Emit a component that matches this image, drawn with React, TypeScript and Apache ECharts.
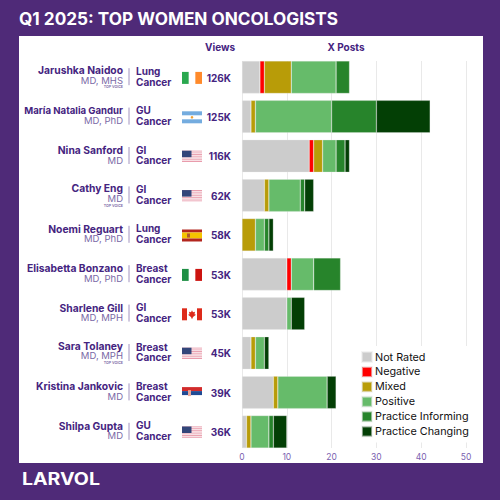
import React, { useEffect, useRef } from "react";
import * as echarts from "echarts";

const names = ["Jarushka Naidoo", "María Natalia Gandur", "Nina Sanford", "Cathy Eng", "Noemi Reguart", "Elisabetta Bonzano", "Sharlene Gill", "Sara Tolaney", "Kristina Jankovic", "Shilpa Gupta"];
const degrees = ["MD, MHS", "MD, PhD", "MD", "MD", "MD, PhD", "MD, PhD", "MD, MPH", "MD, MPH", "MD", "MD"];
const topVoice = [true, false, false, true, false, false, false, true, false, false];
const cancers = ["Lung", "GU", "GI", "GI", "Lung", "Breast", "GI", "Breast", "Breast", "GU"];
const flags = ["ie", "ar", "us", "us", "es", "it", "ca", "us", "rs", "us"];
const views = ["126K", "125K", "116K", "62K", "58K", "53K", "53K", "45K", "39K", "36K"];

const notRated = [4, 2, 15, 5, 0, 10, 10, 2, 7, 1];
const negative = [1, 0, 1, 0, 0, 1, 0, 0, 0, 0];
const mixed = [6, 1, 2, 1, 3, 0, 0, 1, 1, 1];
const positive = [10, 17, 3, 7, 2, 5, 1, 2, 11, 4];
const practiceInforming = [3, 10, 2, 1, 1, 6, 0, 0, 0, 1];
const practiceChanging = [0, 12, 1, 2, 1, 0, 3, 1, 2, 3];

const seriesDefs: [string, number[], string][] = [
  ["Not Rated", notRated, "#cccccc"],
  ["Negative", negative, "#ff0000"],
  ["Mixed", mixed, "#b89c08"],
  ["Positive", positive, "#66bb6a"],
  ["Practice Informing", practiceInforming, "#27842b"],
  ["Practice Changing", practiceChanging, "#033f05"],
];

const PURPLE = "#4f2a78";
const INK = "#45247f";
const SOFT = "#7a68a6";
const FONT = "Inter";
const GRID_TOP = 57.5;
const GRID_H = 394;
const ROW = GRID_H / names.length;

function rect(x: number, y: number, w: number, h: number, fill: string) {
  return { type: "rect", silent: true, shape: { x, y, width: w, height: h }, style: { fill } };
}

function text(x: number, y: number, t: string, o: any, extra: any = {}) {
  return {
    type: "text",
    silent: true,
    x,
    y,
    ...extra,
    style: { text: t, fontFamily: FONT, textVerticalAlign: "middle", ...o },
  };
}

function flag(code: string, cy: number) {
  const x = 182;
  const w = 20;
  const y = cy - 5.3;
  const h = 12;
  const out: any[] = [];
  if (code === "ie" || code === "it") {
    const [a, b] = code === "ie" ? ["#2aa84f", "#ff8a2b"] : ["#1f8f45", "#cc1410"];
    out.push(rect(x, y, w / 3, h, a), rect(x + (2 * w) / 3, y, w / 3, h, b));
  } else if (code === "ca") {
    out.push(rect(x, y, 5, h, "#dd2a1a"), rect(x + 15, y, 5, h, "#dd2a1a"));
    out.push({
      type: "polygon",
      silent: true,
      shape: { points: [[x + 10, y + 2], [x + 11, y + 4], [x + 13, y + 3.5], [x + 12.5, y + 6], [x + 14, y + 6.5], [x + 11, y + 8.8], [x + 10.3, y + 10.5], [x + 9.7, y + 10.5], [x + 9, y + 8.8], [x + 6, y + 6.5], [x + 7.5, y + 6], [x + 7, y + 3.5], [x + 9, y + 4]] },
      style: { fill: "#dd2a1a" },
    });
  } else if (code === "ar") {
    out.push(rect(x, y, w, 4, "#74acdf"), rect(x, y + 8, w, 4, "#74acdf"));
    out.push({ type: "circle", silent: true, shape: { cx: x + 10, cy: y + 6, r: 1.3 }, style: { fill: "#f0a030" } });
  } else if (code === "es") {
    out.push(rect(x, y, w, 3, "#b3261e"), rect(x, y + 3, w, 6, "#f5c400"), rect(x, y + 9, w, 3, "#b3261e"), rect(x + 5, y + 4, 3, 4, "#b05a30"));
  } else if (code === "rs") {
    out.push(rect(x, y, w, 4, "#d22b2b"), rect(x, y + 4, w, 4, "#1f4a94"), rect(x + 6, y + 3, 3, 6, "#e8a79a"));
  } else {
    for (let i = 0; i < 7; i++) {
      out.push(rect(x, y + (i * 12) / 7, w, 12 / 14, "#e58a9d"));
    }
    for (let i = 0; i < 6; i++) {
      out.push(rect(x, y + ((i + 0.5) * 12) / 7, w, 12 / 14, "#f7dde2"));
    }
    out.push(rect(x, y, 9.5, 6.5, "#33467a"));
  }
  return out;
}

function buildGraphics() {
  const els: any[] = [];
  els.push(text(19, 18, "Q1 2025: TOP WOMEN ONCOLOGISTS", { fill: "#fff", fontSize: 17.2, fontWeight: 700 }));
  els.push(text(22, 479, "LARVOL", { fill: "#fff", fontSize: 17, fontWeight: 700 }, { scaleX: 1.15 }));
  els.push(text(220, 47, "Views", { fill: INK, fontSize: 10, fontWeight: 700, textAlign: "center" }));
  els.push(text(346, 47, "X Posts", { fill: INK, fontSize: 10, fontWeight: 700, textAlign: "center" }));
  names.forEach((name, i) => {
    const cy = GRID_TOP + ROW * (i + 0.5);
    const nudge = topVoice[i] ? -1.2 : 0;
    const size = name.length > 18 ? 9.6 : 10.3;
    els.push(text(123, cy - 6 + nudge, name, { fill: INK, fontSize: size, fontWeight: 700, textAlign: "right" }));
    els.push(text(123, cy + 4 + nudge, degrees[i], { fill: SOFT, fontSize: 9.5, fontWeight: 400, textAlign: "right" }));
    if (topVoice[i]) {
      els.push(text(123, cy + 10.2, "TOP VOICE", { fill: SOFT, fontSize: 3.6, fontWeight: 600, textAlign: "right" }));
    }
    els.push({
      type: "line",
      silent: true,
      shape: { x1: 129, y1: cy - 9, x2: 129, y2: cy + 8 },
      style: { stroke: "#8a78b0", lineWidth: 0.8 },
    });
    els.push(text(136, cy - 6.4, cancers[i], { fill: INK, fontSize: 10, fontWeight: 700 }));
    els.push(text(136, cy + 4.4, "Cancer", { fill: INK, fontSize: 10, fontWeight: 700 }));
    els.push(...flag(flags[i], cy));
    els.push(text(231, cy + 0.3, views[i], { fill: INK, fontSize: 10, fontWeight: 700, textAlign: "right" }));
  });
  return els;
}

export default function App() {
  const ref = useRef<HTMLDivElement>(null);
  useEffect(() => {
    document.body.style.margin = "0";
    const chart = echarts.init(ref.current!, undefined, { renderer: "svg" });
    chart.setOption({
      animation: false,
      backgroundColor: PURPLE,
      textStyle: { fontFamily: FONT },
      grid: [
        { left: 242, width: 224, top: GRID_TOP, height: GRID_H, show: false },
        { left: 242, width: 224, top: 61, height: 387, show: false },
      ],
      xAxis: [
        { type: "value", gridIndex: 0, min: 0, max: 50, interval: 10, show: false, splitLine: { show: false } },
        {
          type: "value",
          gridIndex: 1,
          min: 0,
          max: 50,
          interval: 10,
          axisLine: { show: false },
          axisTick: { show: false },
          splitLine: { show: true, lineStyle: { color: "#e9e9e9", width: 1 } },
          axisLabel: { color: "#7b5fb0", fontSize: 8.5, margin: 4, fontFamily: FONT },
        },
      ],
      yAxis: [
        {
          type: "category",
          gridIndex: 0,
          inverse: true,
          data: names,
          axisLine: { show: false },
          axisTick: { show: false },
          axisLabel: { show: false },
        },
        { type: "value", gridIndex: 1, min: 0, max: 1, show: false, splitLine: { show: false } },
      ],
      legend: {
        orient: "vertical",
        left: 355,
        top: 346,
        padding: [5, 6, 5, 6],
        backgroundColor: "#ffffff",
        itemWidth: 10,
        itemHeight: 10,
        itemGap: 2.9,
        icon: "rect",
        selectedMode: false,
        textStyle: { color: "#111", fontSize: 10.8, fontFamily: FONT, padding: [0, 0, 0, -2] },
        data: seriesDefs.map((d) => d[0]),
      },
      series: seriesDefs.map(([name, values, color]) => ({
        name,
        type: "bar",
        stack: "posts",
        xAxisIndex: 0,
        yAxisIndex: 0,
        barWidth: 32.5,
        data: values.map((v) => (v === 0 ? null : v)),
        itemStyle: { color, borderColor: "rgba(235,235,235,0.55)", borderWidth: 0.5 },
      })),
      graphic: {
        elements: [
          { type: "rect", z: -10, silent: true, shape: { x: 19, y: 36, width: 464, height: 427 }, style: { fill: "#fff" } },
          ...buildGraphics(),
        ],
      },
    });
    return () => chart.dispose();
  }, []);
  return <div ref={ref} style={{ width: 500, height: 500 }} />;
}
